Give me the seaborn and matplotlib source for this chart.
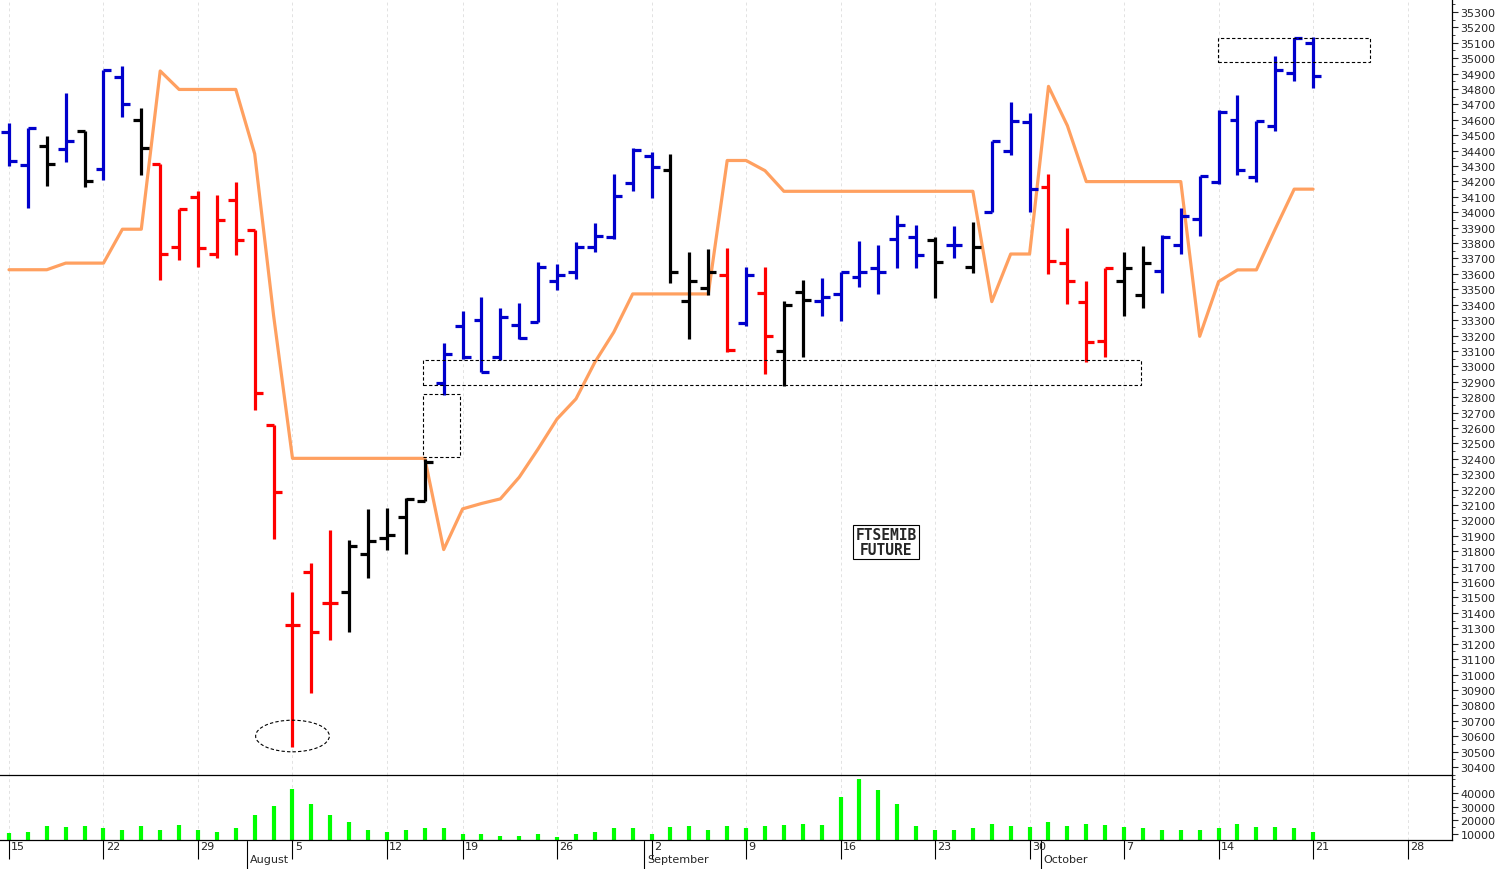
import numpy as np
import pandas as pd
import matplotlib
matplotlib.use("Agg")
import matplotlib.pyplot as plt
import matplotlib.transforms as mtransforms
from matplotlib.patches import Rectangle, Ellipse
import seaborn as sns

# ---------------- data ----------------
highs = [34582,34547,34493,34776,34529,34926,34947,34678,34314,34021,34135,34111,34194,33887,32618,31538,31723,31941,31872,32075,
         32080,32144,32400,33150,33356,33453,33377,33410,33676,33665,33806,33929,34249,34416,34390,34379,33741,33762,33767,33648,
         33643,33427,33563,33574,33615,33816,33790,33982,33920,33838,33913,33939,34465,34714,34644,34249,33896,33552,33636,33740,
         33783,33855,34026,34238,34666,34763,34590,35016,35131,35140]
lows = [34299,34030,34170,34329,34164,34209,34618,34239,33561,33687,33642,33702,33723,32717,31881,30529,30881,31224,31275,31627,
        31805,31783,32129,32811,33049,32962,33038,33178,33291,33498,33568,33745,33827,34141,34091,33542,33178,33460,33092,33265,
        32951,32875,33063,33329,33297,33513,33470,33636,33636,33442,33703,33606,34004,34372,34004,33600,33405,33031,33059,33329,
        33377,33476,33729,33848,34184,34244,34199,34525,34854,34806]
opens = [34523,34305,34433,34409,34529,34278,34875,34597,34314,33777,34099,33732,34081,33887,32618,31323,31663,31463,31538,31782,
         31885,32021,32129,32891,33265,33302,33059,33269,33291,33552,33615,33773,33838,34191,34368,34277,33421,33507,33594,33282,
         33477,33102,33481,33427,33470,33578,33636,33827,33838,33822,33788,33643,34004,34400,34584,34162,33669,33416,33167,33556,
         33463,33621,33788,33956,34194,34599,34227,34558,34904,35096]
closes = [34335,34547,34314,34463,34200,34926,34702,34418,33732,34021,33770,33950,33821,32827,32185,31323,31275,31463,31836,31866,
          31906,32140,32382,33081,33059,32966,33319,33183,33643,33596,33773,33849,34104,34407,34292,33615,33552,33615,33107,33594,
          33200,33398,33433,33448,33610,33610,33610,33918,33723,33680,33788,33773,34465,34595,34151,33686,33556,33156,33636,33636,
          33671,33837,33978,34238,34649,34274,34590,34926,35131,34887]
bar_class = list("bbkbkbbk" + "r"*10 + "k"*5 + "b"*12 + "kkk" + "rbr" + "kk" + "b"*6 + "kbk" + "bbb" + "rrrr" + "kk" + "b"*9)
stop_line = [33627,33627,33627,33670,33670,33670,33890,33890,34917,34797,34797,34797,34797,34379,33330,32403,32403,32403,32403,32403,
             32403,32403,32403,31811,32075,32110,32140,32281,32465,32659,32789,33027,33222,33470,33470,33470,33470,33470,34336,34336,
             34270,34136,34136,34136,34136,34136,34136,34136,34136,34136,34136,34136,33420,33729,33729,34817,34562,34199,34199,34199,
             34199,34199,34199,33195,33550,33626,33626,33892,34150,34150]
volumes = [11000,11700,16100,15300,16100,14600,13100,16100,13100,16800,13100,11700,14600,24100,30700,43000,32100,24100,19000,12600,
           11700,13100,14600,14600,10200,10200,8700,8700,10200,8000,10200,11700,14600,14600,10200,15300,16100,13100,16100,14600,
           16100,16800,17400,16800,36900,50000,42300,32100,16100,12600,13100,14600,17400,16100,15300,19000,16100,17400,16800,15300,
           14600,13100,13100,13100,14600,17400,15300,15300,14600,11700]

dates = pd.bdate_range("2019-07-15", "2019-10-21")
dates = dates[dates != pd.Timestamp("2019-08-15")]
n = len(dates)
idx = np.arange(n)
df = pd.DataFrame({"i": idx, "high": highs, "low": lows, "open": opens, "close": closes,
                   "cls": bar_class, "stop": stop_line, "vol": volumes})

col_map = {"b": "#0000cc", "k": "#000000", "r": "#ff0000"}

# ---------------- figure ----------------
sns.set_style("white")
plt.rcParams["font.family"] = ["DejaVu Sans"]
fig = plt.figure(figsize=(15.03, 8.7), dpi=100)
ax2 = fig.add_axes([0, 1 - 841/870, 1452/1503, 65/870])
ax = fig.add_axes([0, 1 - 776/870, 1452/1503, 776/870], sharex=ax2)
ax.patch.set_alpha(0)
ax2.patch.set_alpha(0)

xmin, xmax = -0.476, 76.35
ax.set_xlim(xmin, xmax)
ax.set_ylim(30348, 35384)

week_pos = [i for i, d in enumerate(dates) if d.weekday() == 0] + [74]
week_lab = [str(d.day) for d in dates if d.weekday() == 0] + ["28"]
for a in (ax, ax2):
    for p in week_pos:
        a.axvline(p, color="#e2e2e2", lw=0.7, ls=(0, (3, 3)), zorder=0)

# stop line
sns.lineplot(data=df, x="i", y="stop", ax=ax, color="#ffa060", lw=2.3, zorder=2)

# OHLC bars
tw = 0.42
for _, r in df.iterrows():
    c = col_map[r["cls"]]
    ax.vlines(r["i"], r["low"], r["high"], color=c, lw=2.3, zorder=3)
    ax.hlines(r["open"], r["i"] - tw, r["i"], color=c, lw=2.3, zorder=3)
    ax.hlines(r["close"], r["i"], r["i"] + tw, color=c, lw=2.3, zorder=3)

# annotations
dash = dict(fill=False, ls=(0, (3, 2)), lw=0.8, ec="black", zorder=4)
ax.add_patch(Rectangle((21.9, 32879), 59.9 - 21.9, 33042 - 32879, **dash))
ax.add_patch(Rectangle((21.9, 32412), 23.85 - 21.9, 32821 - 32412, **dash))
ax.add_patch(Rectangle((63.95, 34976), 72.0 - 63.95, 35131 - 34976, **dash))
ax.add_patch(Ellipse((15.0, 30601), 3.9, 205, **dash))
ax.text(46.4, 31860, "FTSEMIB\nFUTURE", ha="center", va="center", fontsize=10.5,
        fontweight="bold", family="DejaVu Sans Mono", linespacing=0.95,
        bbox=dict(boxstyle="square,pad=0.15", fc="white", ec="black", lw=0.8), zorder=5)

# main axis styling
ax.yaxis.tick_right()
ax.set_yticks(np.arange(30400, 35301, 100))
ax.set_yticks(np.arange(30350, 35384, 50), minor=True)
ax.tick_params(axis="y", which="major", direction="out", length=4, labelsize=8, pad=2, right=True)
ax.tick_params(axis="y", which="minor", direction="out", length=2, right=True)
ax.tick_params(axis="x", bottom=False, labelbottom=False)
for s in ("top", "left"):
    ax.spines[s].set_visible(False)
for s in ("right", "bottom"):
    ax.spines[s].set_color("black"); ax.spines[s].set_linewidth(0.9)
ax.set_xlabel(""); ax.set_ylabel("")

# volume
ax2.vlines(df["i"], 0, df["vol"], color="#00ff00", lw=3)
ax2.set_ylim(5600, 53000)
ax2.yaxis.tick_right()
ax2.set_yticks([10000, 20000, 30000, 40000])
ax2.set_yticks(np.arange(10000, 50001, 5000), minor=True)
ax2.tick_params(axis="y", which="major", direction="out", length=4, labelsize=8, pad=2, right=True)
ax2.tick_params(axis="y", which="minor", direction="out", length=2, right=True)
ax2.set_xticks(week_pos)
ax2.set_xticklabels([])
ax2.tick_params(axis="x", direction="out", length=14, width=0.8, bottom=True, colors="black")
for s in ("top", "left"):
    ax2.spines[s].set_visible(False)
for s in ("right", "bottom"):
    ax2.spines[s].set_color("black"); ax2.spines[s].set_linewidth(0.9)

trans = mtransforms.blended_transform_factory(ax2.transData, ax2.transAxes)
for p, lab in zip(week_pos, week_lab):
    ax2.text(p + 0.12, -0.02, lab, transform=trans, ha="left", va="top", fontsize=8)
months = [(13, "August"), (34, "September"), (55, "October")]
for p, lab in months:
    ax2.plot([p - 0.4, p - 0.4], [-0.02, -0.45], transform=trans, color="black", lw=0.8, clip_on=False)
    ax2.text(p - 0.25, -0.22, lab, transform=trans, ha="left", va="top", fontsize=8)

fig.savefig("out.png", dpi=100, facecolor="white")
